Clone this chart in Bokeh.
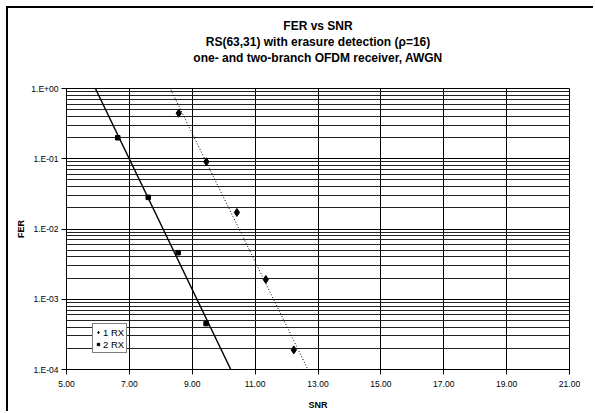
import numpy as np
from bokeh.plotting import figure
from bokeh.models import (FixedTicker, Title, Legend, LegendItem, Range1d,
                          CustomJSTickFormatter)
from bokeh.embed import file_html
from bokeh.resources import INLINE

# ---------------- data ----------------
title_lines = ["FER vs SNR",
               "RS(63,31) with erasure detection (\u03c1=16)",
               "one- and two-branch OFDM receiver, AWGN"]
x_label = "SNR"
y_label = "FER"

snr_1rx = [8.57, 9.45, 10.42, 11.34, 12.23]
fer_1rx = [0.445, 0.0905, 0.0172, 0.00191, 0.000190]

snr_2rx = [6.63, 7.60, 8.55, 9.44]
fer_2rx = [0.199, 0.0282, 0.0046, 0.00045]

series_names = ["1 RX", "2 RX"]

x_ticks = [5, 7, 9, 11, 13, 15, 17, 19, 21]
x_tick_labels = ["5.00", "7.00", "9.00", "11.00", "13.00", "15.00", "17.00", "19.00", "21.00"]
y_ticks = [1e-4, 1e-3, 1e-2, 1e-1, 1.0]
y_tick_labels = ["1.E-04", "1.E-03", "1.E-02", "1.E-01", "1.E+00"]
y_minor = [m * 10.0 ** e for e in range(-4, 0) for m in range(2, 10)]

FONT = "Liberation Sans"

# ---------------- figure ----------------
W, H = 587, 405
p = figure(width=W, height=H, x_range=Range1d(5, 21), y_range=Range1d(1e-4, 1.0),
           y_axis_type="log", output_backend="svg", toolbar_location=None,
           min_border_left=58, min_border_right=26, min_border_top=80, min_border_bottom=44)
p.margin = (6, 0, 0, 6)
p.styles = {"border-left": "2px solid black", "border-top": "2px solid black"}
p.background_fill_color = "white"
p.border_fill_color = "white"
p.outline_line_color = "black"
p.outline_line_width = 1

# trend lines (least squares in log space, like the spreadsheet's exponential trendline)
def trend(xs, ys):
    k, b = np.polyfit(np.array(xs), np.log10(np.array(ys)), 1)
    xx = np.array([x_ticks[0], x_ticks[-1]], dtype=float)
    return xx, 10 ** (k * xx + b)

tx1, ty1 = trend(snr_1rx, fer_1rx)
tx2, ty2 = trend(snr_2rx, fer_2rx)
p.line(tx1, ty1, line_color="black", line_width=1, line_dash="1 2")
p.line(tx2, ty2, line_color="black", line_width=1.4)

r1 = p.scatter(snr_1rx, fer_1rx, marker="diamond", size=8, fill_color="black", line_color="black")
r2 = p.scatter(snr_2rx, fer_2rx, marker="square", size=4.5, fill_color="black", line_color="black")

# axes
xt = FixedTicker(ticks=x_ticks)
yt = FixedTicker(ticks=y_ticks, minor_ticks=y_minor)
p.xaxis.ticker = xt
p.xgrid.ticker = xt
p.yaxis.ticker = yt
p.ygrid.ticker = yt

p.xaxis.formatter = CustomJSTickFormatter(args=dict(tv=x_ticks, lab=x_tick_labels), code="""
let b = 0;
for (let i = 0; i < tv.length; i++) { if (Math.abs(tv[i] - tick) < Math.abs(tv[b] - tick)) b = i; }
return lab[b];
""")
p.yaxis.formatter = CustomJSTickFormatter(args=dict(tv=y_ticks, lab=y_tick_labels), code="""
let b = 0;
const lt = Math.log10(tick);
for (let i = 0; i < tv.length; i++) { if (Math.abs(Math.log10(tv[i]) - lt) < Math.abs(Math.log10(tv[b]) - lt)) b = i; }
return lab[b];
""")

for ax in (p.xaxis[0], p.yaxis[0]):
    ax.axis_line_color = "black"
    ax.major_tick_line_color = "black"
    ax.major_tick_out = 5
    ax.major_tick_in = 0
    ax.minor_tick_out = 0
    ax.minor_tick_in = 0
    ax.major_label_text_font = FONT
    ax.major_label_text_font_size = "8.5px"
    ax.major_label_text_color = "black"
    ax.axis_label_text_font = FONT
    ax.axis_label_text_font_size = "9px"
    ax.axis_label_text_font_style = "bold"
    ax.axis_label_text_color = "black"

p.xaxis.axis_label = x_label
p.yaxis.axis_label = y_label
p.xaxis.major_label_standoff = 6
p.yaxis.major_label_standoff = 3
p.xaxis.axis_label_standoff = 10
p.yaxis.axis_label_standoff = 2

p.xgrid.grid_line_color = "black"
p.xgrid.grid_line_width = 1
p.ygrid.grid_line_color = "black"
p.ygrid.grid_line_width = 1
p.ygrid.minor_grid_line_color = "#222222"
p.ygrid.minor_grid_line_width = 1

# spacer between frame and title block
p.add_layout(Title(text=" ", text_font=FONT, text_font_size="20px", text_line_height=1.0,
                   standoff=0), "above")
# title lines (added nearest-first)
for txt in reversed(title_lines):
    p.add_layout(Title(text=txt, align="center", offset=-12, standoff=0,
                       text_font=FONT, text_font_size="12px", text_font_style="bold",
                       text_line_height=1.0, text_color="black"), "above")

legend = Legend(items=[LegendItem(label=series_names[0], renderers=[r1]),
                       LegendItem(label=series_names[1], renderers=[r2])],
                location=(26, 16))
legend.label_text_font = FONT
legend.label_text_font_size = "9.5px"
legend.label_text_color = "black"
legend.glyph_width = 6
legend.glyph_height = 12
legend.label_height = 12
legend.label_standoff = 2
legend.padding = 2
legend.spacing = 0
legend.margin = 0
legend.border_line_color = "black"
legend.border_line_width = 1
legend.background_fill_color = "white"
legend.background_fill_alpha = 1
p.add_layout(legend)

open("out.html", "w").write(file_html(p, INLINE))
